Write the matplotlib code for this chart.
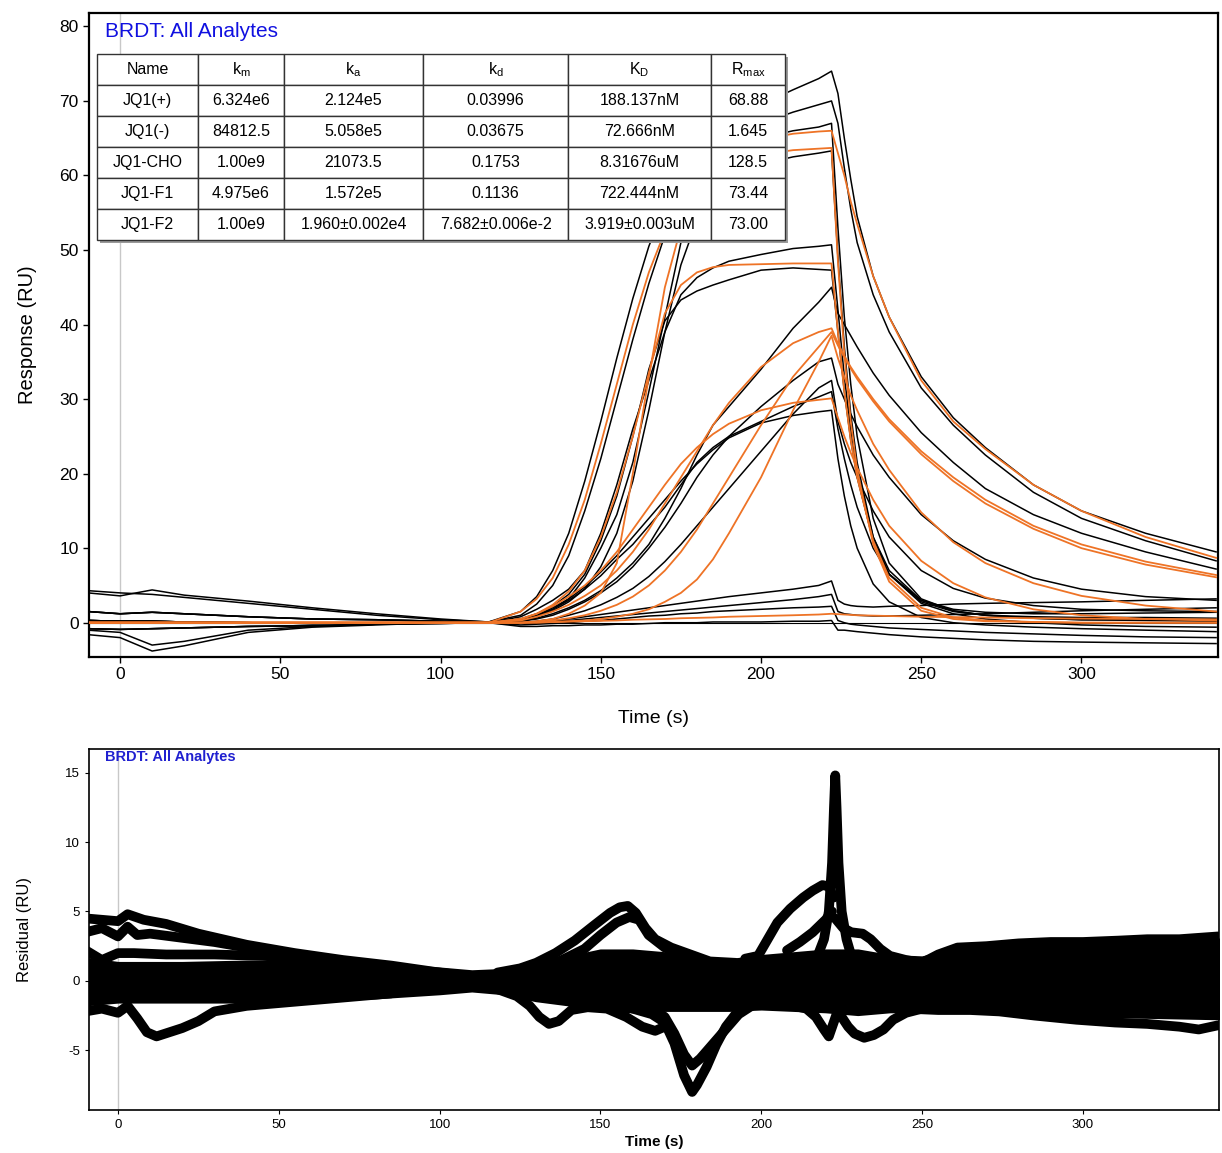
import matplotlib
matplotlib.use("Agg")
import matplotlib.pyplot as plt
from matplotlib.patches import Rectangle

plt.rcParams['font.family'] = ['Liberation Sans', 'DejaVu Sans']
plt.rcParams['mathtext.default'] = 'regular'
plt.rcParams['axes.unicode_minus'] = False

ORANGE = '#EE7326'

# ---------------- sensorgram data ----------------
# time grid: baseline part and injection / dissociation part
t_pre = [-10, 0, 10, 20, 40, 60, 80, 100, 115]
t_run = [125, 130, 135, 140, 145, 150, 155, 160, 165, 170, 175, 180, 185, 190, 200,
         210, 218, 222, 224, 226, 228, 230, 235, 240, 250, 260, 270, 285, 300, 320, 342]

pre_hi = [4.3, 4.0, 3.8, 3.4, 2.6, 1.8, 1.0, 0.4, 0.1]
pre_hi2 = [4.0, 3.6, 4.4, 3.7, 2.9, 2.0, 1.2, 0.5, 0.1]
pre_dip = [-1.6, -2.0, -3.8, -3.1, -1.3, -0.6, -0.3, 0.0, 0.0]
pre_dip2 = [-1.0, -1.3, -3.0, -2.5, -1.0, -0.5, -0.2, 0.0, 0.0]
pre_mid = [1.5, 1.2, 1.4, 1.2, 0.8, 0.5, 0.4, 0.2, 0.0]
pre_zero = [0.3, 0.2, 0.2, 0.1, 0.0, -0.1, 0.0, 0.0, 0.0]
pre_neg = [-0.8, -0.9, -0.8, -0.7, -0.5, -0.4, -0.2, -0.1, 0.0]
fit_pre = [0, 0, 0, 0, 0, 0, 0, 0, 0]

# measured curves (black)
b1 = [1.5, 3.5, 7, 12, 19, 27, 35.5, 43.5, 50.5, 56, 60, 63, 65.5, 67, 69.5,
      71.5, 73, 74, 71, 65, 59.5, 54.5, 46.5, 41, 33, 27.5, 23.5, 18.5, 15, 12, 9.5]
b2 = [1, 2.5, 5, 9, 15, 22, 30, 38, 45.5, 52, 56.5, 60, 62.5, 64.5, 67,
      68.5, 69.5, 70, 67, 61, 55.5, 51, 44, 39, 31.5, 26.5, 22.5, 17.5, 14, 11, 8.3]
b3 = [0.3, 0.8, 1.8, 3.2, 6, 10, 14.5, 21.5, 31, 41, 51, 56.5, 60, 62.5, 65,
      66, 66.5, 67, 53, 41, 32, 25, 14, 8, 3.2, 1.6, 1.0, 0.6, 0.4, 0.3, 0.2]
b4 = [0.3, 0.8, 1.6, 2.8, 4.5, 7.5, 12, 19, 28.5, 39, 48, 54, 57.5, 59.5, 61.5,
      62.5, 63, 63.3, 49, 37, 28, 21.5, 11.5, 6.5, 2.6, 1.2, 0.5, 0.0, -0.3, -0.5, -0.6]
b5 = [0.8, 1.8, 3, 4.5, 7, 12, 18.5, 26, 32.5, 39, 44, 46.3, 47.6, 48.5, 49.4,
      50.2, 50.5, 50.7, 42, 33, 26, 20.5, 11.5, 7, 3, 1.8, 1.4, 1.2, 1.2, 1.3, 1.4]
b6 = [0.5, 1.2, 2.2, 3.8, 6.5, 11, 17, 25, 34, 40.5, 43.3, 44.5, 45.3, 46, 47.3,
      47.6, 47.4, 47.3, 39, 31, 24.5, 19.5, 11, 6.5, 2.8, 1.5, 1.0, 0.8, 0.7, 0.7, 0.6]
b7 = [0.2, 0.6, 1.2, 2, 3, 4.3, 6, 8, 10.5, 14, 18, 22.5, 26.5, 29, 34,
      39.5, 43, 45, 41.5, 40, 38.5, 37, 33.5, 30.5, 25.5, 21.5, 18, 14.5, 12, 9.5, 7.2]
b8 = [0.2, 0.5, 1, 1.8, 2.8, 4, 5.5, 7.5, 10, 12.8, 16, 19.5, 22.5, 25, 29,
      32.5, 35, 35.5, 32, 30, 28, 26.3, 22.5, 19.5, 14.5, 11, 8.5, 6, 4.5, 3.5, 3.0]
b9 = [0, 0.2, 0.5, 1, 1.6, 2.4, 3.4, 4.6, 6.2, 8.2, 10.5, 13, 15.5, 18, 23,
      28, 31.5, 32.5, 27, 24, 21.5, 19.5, 15, 11.5, 7, 4.6, 3.3, 2.3, 1.8, 1.6, 1.5]
b10 = [0.5, 1, 1.8, 3, 4.5, 6.3, 8.5, 10.5, 13, 15.5, 18.5, 21.5, 23.5, 25, 27,
       29, 30.3, 31, 26, 22, 18.5, 15.5, 10, 6.5, 3, 1.6, 1, 0.6, 0.4, 0.4, 0.4]
b11 = [0.4, 1, 2, 3.2, 4.8, 6.8, 9, 11.5, 14, 16.5, 19, 21.3, 23.2, 24.8, 26.8,
       27.8, 28.3, 28.5, 22, 17, 13, 10, 5.2, 2.8, 0.7, 0, -0.3, -0.6, -0.8, -1, -1.2]
b12 = [0, 0.1, 0.3, 0.5, 0.8, 1.1, 1.4, 1.7, 2, 2.3, 2.6, 2.9, 3.2, 3.5, 4,
       4.5, 5, 5.6, 3, 2.5, 2.3, 2.2, 2.1, 2.2, 2.3, 2.5, 2.6, 2.7, 2.8, 3, 3.2]
b13 = [0, 0, 0.2, 0.3, 0.5, 0.7, 0.9, 1.1, 1.3, 1.5, 1.7, 1.9, 2.1, 2.3, 2.7,
       3.1, 3.5, 3.8, 1.5, 1.2, 1.1, 1.0, 0.9, 0.9, 1.0, 1.1, 1.2, 1.4, 1.6, 1.8, 2.0]
b14 = [-0.3, -0.2, -0.1, 0, 0.2, 0.3, 0.5, 0.7, 0.9, 1.0, 1.2, 1.3, 1.5, 1.6, 1.8,
       2.0, 2.1, 2.2, 0.3, 0, -0.2, -0.3, -0.5, -0.7, -0.9, -1.1, -1.3, -1.5, -1.7, -1.9, -2.0]
b15 = [-0.5, -0.5, -0.4, -0.4, -0.3, -0.3, -0.2, -0.2, -0.1, 0, 0, 0, 0.1, 0.1, 0.1,
       0.2, 0.2, 0.3, -1.0, -1.0, -1.1, -1.2, -1.4, -1.6, -1.9, -2.1, -2.3, -2.5, -2.6, -2.7, -2.8]

# fitted curves (orange)
o1 = [1.5, 3.2, 6, 10.5, 16.5, 24, 32, 40, 47, 52.5, 56.5, 59.5, 61.5, 63, 64.8,
      65.6, 65.9, 66, 63, 60, 56.5, 53.5, 46.5, 41, 32.5, 27, 23.3, 18.5, 15, 11.5, 8.7]
o2 = [0, 0.2, 0.5, 1.2, 2.3, 4, 8, 20, 33, 45, 53, 57.5, 60, 61.5, 62.8,
      63.4, 63.6, 63.7, 48.5, 36, 27, 20.5, 10.5, 5.5, 1.6, 0.5, 0.2, 0.1, 0, 0, 0]
o3 = [0.5, 1.2, 2.4, 4.2, 7, 11.5, 17.5, 25, 33.5, 41.5, 45.3, 47, 47.7, 48, 48.1,
      48.2, 48.2, 48.2, 39, 31, 24.5, 19.5, 11, 6, 2, 0.7, 0.3, 0.1, 0, 0, 0]
o4 = [0.3, 0.8, 1.5, 2.4, 3.6, 5, 7, 9.5, 12.5, 16, 19.5, 23, 26.5, 29.5, 34.3,
      37.5, 39, 39.5, 37.5, 35.8, 34.3, 33, 30, 27.3, 23, 19.5, 16.5, 13, 10.5, 8.2, 6.4]
o5 = [0, 0.1, 0.3, 0.6, 1, 1.6, 2.4, 3.5, 5, 7, 9.5, 12.5, 16, 19.5, 26.5,
      33, 37, 39, 37.2, 35.6, 34.1, 32.7, 29.7, 27, 22.6, 19, 16, 12.6, 10, 7.8, 6.1]
o6 = [0, 0, 0.1, 0.2, 0.3, 0.5, 0.8, 1.2, 1.8, 2.8, 4, 5.8, 8.5, 12, 19.5,
      28.5, 35, 38.5, 35.5, 33, 30.5, 28.5, 24, 20.5, 14.8, 10.8, 8, 5.3, 3.6, 2.3, 1.5]
o7 = [0.5, 1.2, 2.2, 3.5, 5, 7, 9.5, 12.5, 15.5, 18.5, 21.3, 23.5, 25.3, 26.7, 28.5,
      29.5, 29.9, 30.1, 27.5, 25, 22.8, 20.8, 16.5, 13, 8.3, 5.3, 3.4, 1.8, 1, 0.5, 0.3]
o8 = [0, 0.05, 0.1, 0.15, 0.2, 0.25, 0.3, 0.4, 0.45, 0.5, 0.6, 0.65, 0.7, 0.8, 0.9,
      1.0, 1.1, 1.2, 1.15, 1.1, 1.05, 1.0, 0.95, 0.9, 0.8, 0.75, 0.7, 0.6, 0.55, 0.5, 0.45]

black_runs = [(pre_hi, b1), (pre_hi2, b2), (pre_mid, b3), (pre_dip, b4), (pre_zero, b5),
              (pre_neg, b6), (pre_zero, b7), (pre_dip2, b8), (pre_mid, b9), (pre_zero, b10),
              (pre_neg, b11), (pre_mid, b12), (pre_zero, b13), (pre_neg, b14), (pre_zero, b15)]
orange_runs = [o1, o2, o3, o4, o5, o6, o7, o8]

# kinetics table
col_labels = ['Name', '$k_m$', '$k_a$', '$k_d$', '$K_D$', '$R_{max}$']
analytes = ['JQ1(+)', 'JQ1(-)', 'JQ1-CHO', 'JQ1-F1', 'JQ1-F2']
km_vals = ['6.324e6', '84812.5', '1.00e9', '4.975e6', '1.00e9']
ka_vals = ['2.124e5', '5.058e5', '21073.5', '1.572e5', '1.960\u00b10.002e4']
kd_vals = ['0.03996', '0.03675', '0.1753', '0.1136', '7.682\u00b10.006e-2']
KD_vals = ['188.137nM', '72.666nM', '8.31676uM', '722.444nM', '3.919\u00b10.003uM']
rmax_vals = ['68.88', '1.645', '128.5', '73.44', '73.00']

# ---------------- residuals ----------------
res_core_t = [-10, 0, 20, 40, 60, 80, 100, 110, 120, 130, 140, 150, 160, 170, 180, 190,
              200, 210, 220, 230, 240, 250, 260, 280, 300, 320, 342]
res_core_hi = [1.4, 1.1, 1.1, 1.2, 1.2, 1.0, 0.7, 0.5, 0.6, 1.0, 1.5, 2.0, 2.0, 1.8, 1.3, 1.3,
               1.6, 1.8, 2.0, 2.0, 1.6, 1.5, 2.0, 2.4, 2.6, 2.6, 2.8]
res_core_lo = [-1.5, -1.3, -1.3, -1.3, -1.2, -1.0, -0.7, -0.5, -0.7, -1.2, -1.5, -1.9, -2.0, -1.9,
               -1.9, -1.9, -1.8, -1.9, -2.0, -2.2, -2.0, -2.0, -2.0, -2.2, -2.3, -2.4, -2.5]

res_traces = [
    ([-10, -5, 0, 3, 8, 15, 25, 40, 55, 70, 85, 100, 110],
     [4.5, 4.4, 4.3, 4.8, 4.4, 4.1, 3.4, 2.6, 2.0, 1.5, 1.1, 0.6, 0.3]),
    ([-10, -5, 0, 3, 6, 10, 20, 30, 40, 55, 70, 85, 100],
     [3.5, 3.8, 3.2, 3.9, 3.3, 3.4, 3.1, 2.8, 2.4, 1.9, 1.4, 0.9, 0.4]),
    ([-10, -5, 0, 5, 15, 30, 45, 60, 75, 90],
     [2.2, 1.5, 2.0, 2.0, 1.9, 1.9, 1.8, 1.6, 1.2, 0.8]),
    ([-10, -5, 0, 3, 6, 9, 12, 16, 20, 25, 30, 40, 55, 70, 85],
     [-2.2, -2.0, -2.3, -1.8, -2.7, -3.7, -4.0, -3.7, -3.4, -2.9, -2.2, -1.8, -1.5, -1.2, -0.9]),
    ([118, 125, 130, 136, 142, 148, 153, 156, 158.5, 161, 164, 167, 172, 178, 184, 192],
     [0.6, 0.9, 1.3, 2.0, 2.9, 4.0, 4.9, 5.3, 5.4, 4.9, 3.8, 3.0, 2.4, 1.9, 1.4, 1.3]),
    ([130, 138, 145, 150, 155, 159, 162, 165, 170, 176],
     [0.8, 1.5, 2.3, 3.3, 4.2, 4.6, 4.4, 3.3, 2.4, 1.8]),
    ([118, 124, 128, 131, 134, 137, 141, 146, 152, 158, 163, 167, 171],
     [-0.6, -1.1, -1.8, -2.6, -3.1, -2.9, -2.1, -1.9, -2.0, -2.6, -3.3, -3.6, -3.2]),
    ([160, 166, 170, 173, 176, 178.5, 180, 183, 186, 189, 192, 196],
     [-2.0, -2.4, -3.0, -4.5, -6.8, -8.0, -7.5, -6.2, -4.6, -3.3, -2.4, -1.8]),
    ([165, 170, 173, 176, 178.5, 181, 184, 187, 190, 193, 197],
     [-1.8, -2.6, -3.8, -5.3, -6.1, -5.6, -4.8, -4.0, -3.2, -2.4, -1.8]),
    ([195, 199, 202, 205, 209, 213, 216, 219, 221, 222.5],
     [1.6, 1.8, 3.0, 4.2, 5.2, 6.0, 6.5, 6.9, 6.8, 6.0]),
    ([217, 219.5, 221, 222, 222.6, 223, 223.4, 224, 225, 226.5, 228],
     [1.5, 3.0, 5.0, 8.5, 12.5, 14.8, 12.5, 8.5, 5.0, 3.0, 1.8]),
    ([208, 212, 216, 220, 222],
     [2.2, 2.8, 3.5, 4.4, 5.0]),
    ([223, 225.5, 228, 231.5, 234, 237, 240, 245, 250],
     [4.5, 3.8, 3.5, 3.4, 3.0, 2.3, 1.8, 1.5, 1.3]),
    ([210, 214, 217, 219.5, 221, 222.5, 224],
     [-1.8, -2.0, -2.6, -3.5, -4.0, -3.0, -2.0]),
    ([223, 225, 227, 229, 232, 235, 238, 241, 245, 250],
     [-2.0, -2.6, -3.3, -3.8, -4.1, -3.9, -3.5, -2.8, -2.3, -2.0]),
    ([245, 250, 255, 261, 270, 280, 290, 300, 311, 320, 330, 336, 342],
     [1.4, 1.3, 1.9, 2.4, 2.5, 2.7, 2.8, 2.8, 2.9, 3.0, 3.0, 3.1, 3.2]),
    ([245, 255, 265, 274, 285, 298, 310, 320, 330, 336, 342],
     [-2.0, -2.1, -2.1, -2.2, -2.5, -2.8, -3.0, -3.1, -3.3, -3.5, -3.2]),
]

# ---------------- figure ----------------
fig = plt.figure(figsize=(12.22, 11.53), dpi=100)
W, H = 1222, 1153
ax = fig.add_axes([89 / W, 1 - 657 / H, (1218 - 89) / W, (657 - 13) / H])
ax2 = fig.add_axes([89 / W, 1 - 1110 / H, (1219 - 89) / W, (1110 - 749) / H])

# top panel
ax.axvline(0, color='#C8C8C8', lw=1, zorder=0)
ax.axhline(0, color='black', lw=0.8, zorder=1)
for pre, run in black_runs:
    ax.plot(t_pre + t_run, pre + run, color='black', lw=1.1, zorder=2)
for run in orange_runs:
    ax.plot(t_pre + t_run, fit_pre + run, color=ORANGE, lw=1.3, zorder=3)

ax.set_xlim(-9.7, 342.6)
ax.set_ylim(-4.6, 81.8)
ax.set_xticks([0, 50, 100, 150, 200, 250, 300])
ax.set_yticks(range(0, 81, 10))
ax.tick_params(labelsize=12.5, length=4, width=1, direction='out')
for s in ax.spines.values():
    s.set_linewidth(1.6)
ax.set_xlabel('Time (s)', fontsize=14, labelpad=20)
ax.set_ylabel('Response (RU)', fontsize=14.5, labelpad=16)
ax.text(0.0142, 0.986, 'BRDT: All Analytes', transform=ax.transAxes, color='#1010E0',
        fontsize=15, va='top', ha='left', zorder=6)

# table with shadow
tb_x, tb_y, tb_w, tb_h = 0.0071, 0.6475, 0.6094, 0.2888
ax.add_patch(Rectangle((tb_x + 0.003, tb_y - 0.005), tb_w, tb_h, transform=ax.transAxes,
                       facecolor='#9A9A9A', edgecolor='none', zorder=6))
cells = [list(r) for r in zip(analytes, km_vals, ka_vals, kd_vals, KD_vals, rmax_vals)]
col_px = [101, 86, 139, 145, 143, 74]
tbl = ax.table(cellText=cells, colLabels=col_labels, cellLoc='center',
               colWidths=[c / sum(col_px) for c in col_px],
               bbox=[tb_x, tb_y, tb_w, tb_h], zorder=7)
tbl.auto_set_font_size(False)
tbl.set_fontsize(11.5)
for cell in tbl.get_celld().values():
    cell.set_edgecolor('#333333')
    cell.set_linewidth(1.0)
    cell.set_facecolor('white')

# bottom panel: residuals
ax2.axvline(0, color='#C8C8C8', lw=1, zorder=0)
ax2.fill_between(res_core_t, res_core_lo, res_core_hi, color='black', lw=6, edgecolor='black', zorder=2)
for tt, rr in res_traces:
    ax2.plot(tt, rr, color='black', lw=7, solid_capstyle='round', solid_joinstyle='round', zorder=3)

ax2.set_xlim(-9, 342.3)
ax2.set_ylim(-9.3, 16.7)
ax2.set_xticks([0, 50, 100, 150, 200, 250, 300])
ax2.set_yticks([-5, 0, 5, 10, 15])
ax2.tick_params(labelsize=9.5, length=3, width=0.8, direction='out')
for s in ax2.spines.values():
    s.set_linewidth(1.2)
ax2.set_xlabel('Time (s)', fontsize=11, fontweight='bold', labelpad=3)
ax2.set_ylabel('Residual (RU)', fontsize=12,
               family=['Liberation Sans Narrow', 'Liberation Sans'], labelpad=24)
ax2.text(0.014, 0.997, 'BRDT: All Analytes', transform=ax2.transAxes, color='#2020D0',
         fontsize=10.5, fontweight='bold', va='top', ha='left', zorder=6)

fig.savefig('out.png', dpi=100)
